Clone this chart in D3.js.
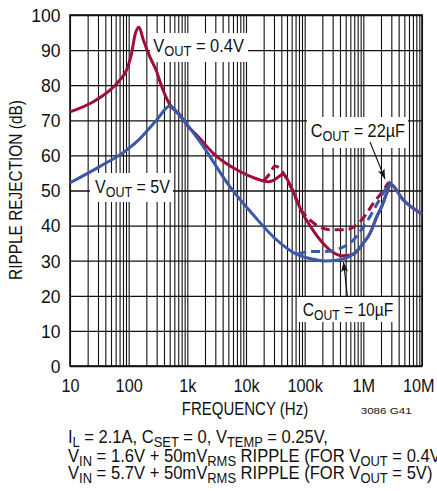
<!DOCTYPE html>
<html><head><meta charset="utf-8">
<script src="https://cdn.jsdelivr.net/npm/d3@7"></script>
<style>
body{margin:0;background:#fff}
svg{display:block}
text{font-family:"Liberation Sans",Arial,Helvetica,sans-serif;fill:#111}
</style>
</head><body>
<svg id="chart" width="437" height="491"></svg>
<script>
// ---- data ----
const xTickValues = [10, 100, 1e3, 1e4, 1e5, 1e6, 1e7];
const xTickLabels = ["10", "100", "1k", "10k", "100k", "1M", "10M"];
const yTickValues = [0, 10, 20, 30, 40, 50, 60, 70, 80, 90, 100];

// VOUT = 0.4V, COUT = 10uF (solid red)
const redSolidFreq = [10, 25, 48, 71, 92, 112, 128, 150, 178, 231, 300, 342, 506, 750, 977, 1540, 2770, 7900, 14200, 24000, 30000, 43000, 60000, 89000, 132000, 195000, 290000, 427000, 631000, 1000000, 1300000, 1690000, 2050000, 2500000, 2900000, 4800000, 10000000];
const redSolidDb   = [72.4, 75.3, 78.6, 81.5, 84.3, 89, 94.3, 96.5, 92.9, 88, 83.9, 81, 74.4, 71.5, 68.7, 65.3, 60.6, 55.4, 53.5, 52.5, 53, 54.6, 50.6, 44, 39.2, 35.4, 32.6, 31.4, 31.6, 35, 37.8, 42.5, 45.4, 49.2, 51.8, 47.3, 43.3];

// VOUT = 0.4V, COUT = 22uF (dashed red)
const redDashFreq = [20000, 26000, 31000, 36000, 43000, 60000, 89000, 101000, 140000, 171000, 290000, 487000, 820000, 1140000, 1500000, 2050000, 2700000];
const redDashDb   = [52.8, 55, 57, 56.6, 55, 50.6, 44.2, 43, 40.8, 39.8, 38.8, 38.8, 40.6, 43.5, 46.5, 49.4, 52.3];

// VOUT = 5V, COUT = 10uF (solid blue)
const blueSolidFreq = [10, 32, 92, 156, 300, 506, 750, 1640, 5300, 14200, 31000, 68000, 132000, 222000, 374000, 631000, 1000000, 1300000, 1690000, 2050000, 2500000, 2900000, 4800000, 10000000];
const blueSolidDb   = [52.2, 56.8, 61.5, 64.8, 70.1, 74.1, 71.2, 63.9, 51.1, 42.5, 36.4, 32.1, 30.5, 29.9, 30.2, 31.6, 35, 37.8, 42.5, 45.4, 49.2, 51.8, 47.3, 43.3];

// VOUT = 5V, COUT = 22uF (dashed blue)
const blueDashFreq = [75000, 130000, 200000, 300000, 400000, 675000, 900000, 1140000, 1690000, 2300000, 2900000];
const blueDashDb   = [31.9, 32.6, 32.6, 32.8, 33.5, 35.9, 38.5, 41, 46, 50, 52.6];

const RED = "#9e1038";
const BLUE = "#3c58a8";

// ---- layout ----
const svg = d3.select("#chart");
const L = 70, R = 422, T = 15, B = 366;
const x = d3.scaleLog().domain([10, 1e7]).range([L, R]);
const y = d3.scaleLinear().domain([0, 100]).range([B, T]);

// minor grid values
const gridX = [];
for (let d = 10; d < 1e7; d *= 10) for (let k = 1; k < 10; k++) gridX.push(d * k);
gridX.push(1e7);

// grid via axes
svg.append("g").attr("transform", `translate(0,${B})`)
  .call(d3.axisBottom(x).tickValues(gridX).tickSize(-(B - T)).tickFormat(""))
  .call(g => g.select(".domain").remove())
  .call(g => g.selectAll("line").attr("stroke", "#111").attr("stroke-width", 1.1));
svg.append("g").attr("transform", `translate(${L},0)`)
  .call(d3.axisLeft(y).tickValues(yTickValues).tickSize(-(R - L)).tickFormat(""))
  .call(g => g.select(".domain").remove())
  .call(g => g.selectAll("line").attr("stroke", "#111").attr("stroke-width", 1.3));

// frame
svg.append("rect").attr("x", L).attr("y", T).attr("width", R - L).attr("height", B - T)
  .attr("fill", "none").attr("stroke", "#111").attr("stroke-width", 1.6);

// tick labels via axes
svg.append("g").attr("transform", `translate(0,${B})`)
  .call(d3.axisBottom(x).tickValues(xTickValues).tickSize(0).tickPadding(0)
        .tickFormat((d, i) => xTickLabels[i]))
  .call(g => g.select(".domain").remove())
  .call(g => g.selectAll("text").attr("y", 25.7).attr("dy", null)
        .attr("transform", "scale(0.93,1)")
        .attr("dx", (d, i) => i === xTickValues.length - 1 ? -4 : 0)
        .style("font-size", "17.5px").style("font-family", '"Liberation Sans",Arial,sans-serif').attr("fill", "#111"));
svg.append("g").attr("transform", `translate(${L},0)`)
  .call(d3.axisLeft(y).tickValues(yTickValues).tickSize(0).tickPadding(0).tickFormat(d => String(d)))
  .call(g => g.select(".domain").remove())
  .call(g => g.selectAll("text").attr("x", -9.5).attr("dy", "0.36em")
        .style("font-size", "17.5px").style("font-family", '"Liberation Sans",Arial,sans-serif').attr("fill", "#111"));

// white label boxes
const boxes = [
  [150, 33, 98, 29],
  [90, 173, 83, 29],
  [307, 117, 101, 31],
  [298, 297, 98, 25]
];
svg.selectAll("rect.box").data(boxes).join("rect").attr("class", "box")
  .attr("x", d => d[0]).attr("y", d => d[1]).attr("width", d => d[2]).attr("height", d => d[3])
  .attr("fill", "#fff");

// curves
const line = d3.line().x(d => x(d[0])).y(d => y(d[1])).curve(d3.curveMonotoneX);
function series(fr, db) { return fr.map((f, i) => [f, db[i]]); }
const curves = [
  {pts: series(redSolidFreq, redSolidDb), c: RED, dash: null},
  {pts: series(redDashFreq, redDashDb), c: RED, dash: "9,5"},
  {pts: series(blueSolidFreq, blueSolidDb), c: BLUE, dash: null},
  {pts: series(blueDashFreq, blueDashDb), c: BLUE, dash: "9,5"}
];
svg.selectAll("path.curve").data(curves).join("path").attr("class", "curve")
  .attr("d", d => line(d.pts)).attr("fill", "none").attr("stroke", d => d.c)
  .attr("stroke-width", 3).attr("stroke-linejoin", "round")
  .attr("stroke-dasharray", d => d.dash);

// rich text helper: parts = [[text, sub?]]
function fillParts(t, parts, size) {
  let prevSub = false;
  parts.forEach(([s, sub]) => {
    const ts = t.append("tspan").text(s);
    if (sub) ts.style("font-size", (size * 0.78) + "px");
    const shift = sub && !prevSub ? size * 0.22 : (!sub && prevSub ? -size * 0.22 : 0);
    if (shift) ts.attr("dy", shift);
    prevSub = sub;
  });
}
function rich(parent, x0, y0, parts, size, targetW, opts = {}) {
  const g = parent.append("g");
  const t = g.append("text").style("font-size", size + "px");
  fillParts(t, parts, size);
  const w = t.node().getComputedTextLength();
  const sx = targetW ? targetW / w : (opts.sx || 1);
  if (opts.rotate) g.attr("transform", `translate(${x0},${y0}) rotate(-90) scale(${sx},1)`);
  else g.attr("transform", `translate(${x0},${y0}) scale(${sx},1)`);
  if (opts.anchor === "middle") t.attr("x", -w / 2);
  return sx;
}

rich(svg, 153.3, 51.7, [["V"], ["OUT", 1], [" = 0.4V"]], 18.5, 90.7);
rich(svg, 95, 193, [["V"], ["OUT", 1], [" = 5V"]], 18.5, 75);
rich(svg, 310.7, 137, [["C"], ["OUT", 1], [" = 22µF"]], 18.5, 94.3);
rich(svg, 302.7, 315.7, [["C"], ["OUT", 1], [" = 10µF"]], 18.5, 90.6);

rich(svg, 245, 415, [["FREQUENCY (Hz)"]], 17.5, 126.6, {anchor: "middle"});
rich(svg, 360.7, 414, [["3086 G41"]], 9.5, 51);
rich(svg, 22, 190, [["RIPPLE REJECTION (dB)"]], 17.5, 180, {rotate: true, anchor: "middle"});

rich(svg, 68, 443.3, [["I"], ["L", 1], [" = 2.1A, C"], ["SET", 1], [" = 0, V"], ["TEMP", 1], [" = 0.25V,"]], 18, 260);
const sx3 = rich(svg, 68, 478.7, [["V"], ["IN", 1], [" = 5.7V + 50mV"], ["RMS", 1], [" RIPPLE (FOR V"], ["OUT", 1], [" = 5V)"]], 18, 364.7);
rich(svg, 68, 461.7, [["V"], ["IN", 1], [" = 1.6V + 50mV"], ["RMS", 1], [" RIPPLE (FOR V"], ["OUT", 1], [" = 0.4V)"]], 18, null, {sx: sx3});

// arrows
const defs = svg.append("defs");
defs.append("marker").attr("id", "ah").attr("viewBox", "0 0 10 10").attr("refX", 10).attr("refY", 5)
  .attr("markerWidth", 10).attr("markerHeight", 10).attr("markerUnits", "userSpaceOnUse").attr("orient", "auto")
  .append("path").attr("d", "M0,1.5 L10,5 L0,8.5 L2.5,5 Z").attr("fill", "#111");
const arrows = [[370, 142, 385, 179], [347.5, 297, 343.5, 262]];
svg.selectAll("line.arrow").data(arrows).join("line").attr("class", "arrow")
  .attr("x1", d => d[0]).attr("y1", d => d[1]).attr("x2", d => d[2]).attr("y2", d => d[3])
  .attr("stroke", "#111").attr("stroke-width", 1.1).attr("marker-end", "url(#ah)");
</script>
</body></html>
